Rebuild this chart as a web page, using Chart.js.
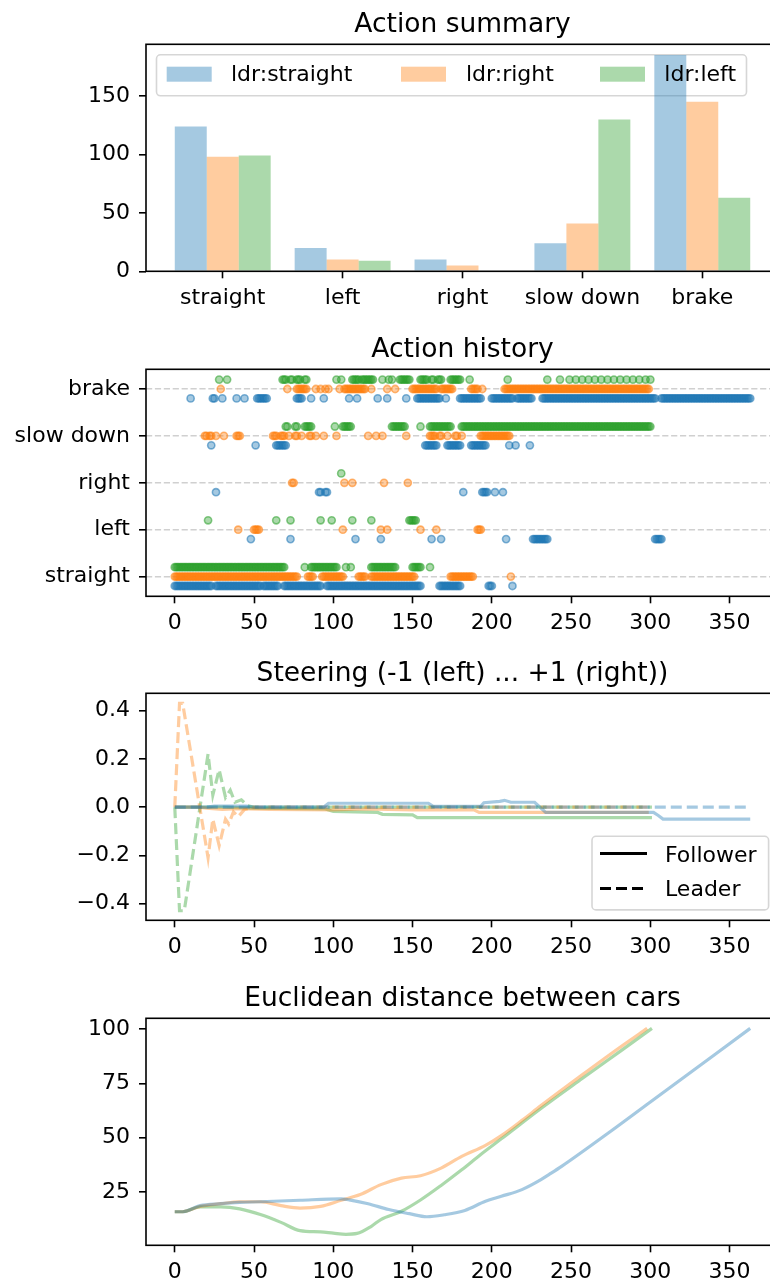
<!DOCTYPE html>
<html>
<head>
<meta charset="utf-8">
<script src="https://cdn.jsdelivr.net/npm/chart.js@4.4.0/dist/chart.umd.min.js"></script>
<style>
  html, body { margin: 0; padding: 0; background: #fff; overflow: hidden; width: 770px; height: 1282px; }
  canvas { position: absolute; left: 0; }
</style>
</head>
<body>
<canvas id="summary" width="800" height="325" style="top:0px"></canvas>
<canvas id="history" width="800" height="325" style="top:325px"></canvas>
<canvas id="steering" width="800" height="325" style="top:649px"></canvas>
<canvas id="distance" width="800" height="325" style="top:974px"></canvas>
<script>
// ---- data ----
const actions = ["straight", "left", "right", "slow down", "brake"];
const leaders = ["ldr:straight", "ldr:right", "ldr:left"];

// Action summary (counts per action)
const countStraight = [124, 20, 10, 24, 185];
const countRight = [98, 10, 5, 41, 145];
const countLeft = [99, 9, 0, 130, 63];

// Action history: runs of time steps [from, to] for each leader and action
const stStraight = [[0,23],[26,54],[56,65],[69,92],[96,155],[167,180],[198,200],[213,213]];
const stLeft = [[48,48],[73,73],[114,114],[130,130],[162,162],[168,168],[209,209],[226,235],[303,307]];
const stRight = [[26,26],[91,92],[95,96],[182,182],[194,197],[202,202],[207,207]];
const stSlow = [[23,23],[51,51],[64,70],[158,165],[172,180],[187,196],[211,211],[215,215],[224,224]];
const stBrake = [[10,10],[24,25],[30,30],[39,39],[44,44],[52,58],[77,80],[86,86],[94,94],[110,110],[115,115],
  [128,128],[134,134],[146,146],[153,167],[171,171],[180,193],[200,213],[216,225],[232,303],[307,363]];

const rtStraight = [[0,77],[84,87],[93,106],[116,120],[124,151],[174,188],[212,212]];
const rtLeft = [[40,40],[50,53],[106,106],[130,130],[134,134],[155,155],[165,165],[191,193]];
const rtRight = [[74,75],[107,107],[112,112],[132,132],[147,147]];
const rtSlow = [[19,20],[22,23],[26,26],[31,31],[39,41],[62,64],[67,69],[72,72],[76,77],[80,80],[85,86],[89,89],
  [94,94],[102,102],[122,122],[127,127],[131,131],[146,146],[161,164],[167,168],[172,172],[177,178],[181,181],[193,211]];
const rtBrake = [[29,29],[71,71],[77,83],[89,89],[92,92],[95,95],[97,97],[104,104],[107,120],[124,124],[134,134],
  [139,139],[150,165],[168,175],[187,191],[194,194],[208,299]];

const lfStraight = [[0,69],[82,82],[86,102],[108,108],[111,111],[124,139],[150,155],[161,161]];
const lfLeft = [[21,21],[64,64],[73,73],[92,92],[99,99],[112,112],[124,124],[148,152]];
const lfRight = [[105,105]];
const lfSlow = [[70,71],[76,77],[82,86],[101,101],[106,111],[137,145],[155,155],[161,174],[181,300]];
const lfBrake = [[28,28],[33,33],[68,70],[73,74],[77,79],[82,83],[102,102],[105,105],[112,116],[118,125],[131,131],
  [135,135],[137,137],[142,148],[155,159],[162,163],[166,168],[174,180],[186,186],[210,210],[235,235],[243,243],
  [249,249],[253,253],[257,257],[261,261],[265,265],[269,269],[273,273],[277,277],[281,281],[285,285],[289,289],
  [293,293],[297,297],[300,300]];

// Steering, [step, value]
const steerFollowStraight = [[0,0],[20,0],[25,0.004],[45,0.004],[50,0],[94,0],[97,0.016],[160,0.016],[163,0.003],
  [193,0.003],[195,0.018],[205,0.024],[208,0.028],[212,0.02],[227,0.02],[234,-0.022],[302,-0.022],[305,-0.035],
  [308,-0.05],[363,-0.05]];
const steerFollowRight = [[0,0],[15,0],[20,-0.004],[30,-0.01],[40,-0.006],[60,-0.01],[100,-0.012],[120,-0.008],
  [150,-0.012],[189,-0.012],[192,-0.022],[299,-0.022]];
const steerFollowLeft = [[0,0],[30,0],[50,-0.004],[95,-0.008],[100,-0.018],[128,-0.022],[131,-0.03],[150,-0.032],
  [153,-0.044],[301,-0.044]];
const steerLeadStraight = [[0,0],[363,0]];
const steerLeadRight = [[0,0],[3,0.43],[5,0.43],[21,-0.21],[24,-0.05],[28,-0.16],[32,-0.05],[34,-0.07],[37,-0.02],
  [40,-0.04],[44,-0.01],[50,0],[299,0]];
const steerLeadLeft = [[0,0],[3,-0.43],[6,-0.43],[21,0.22],[24,0.05],[28,0.155],[32,0.04],[35,0.07],[38,0.02],
  [42,0.03],[46,0.005],[50,0],[301,0]];

// Euclidean distance, [step, value]
const distStraight = [[0,15.9],[5,15.9],[16,18.7],[29,19.6],[41,20.2],[54,20.5],[79,21.2],[105,21.8],[110,21.4],
  [122,19.6],[135,16.9],[148,15.0],[159,13.6],[170,14.5],[183,16.5],[196,20.7],[206,23.0],[219,26.1],[231,30.7],
  [236,33.0],[244,36.8],[275,53],[300,66.5],[363,100.4]];
const distRight = [[0,15.9],[5,15.9],[16,18.4],[29,19.6],[41,20.5],[54,20.5],[67,18.7],[79,17.6],[92,18.4],
  [105,21.2],[117,23.8],[130,28.4],[143,31.4],[155,32.5],[168,36.0],[181,41.4],[196,46.5],[206,51.0],[219,58.0],
  [231,64.8],[257,79.0],[282,92.3],[298,100.4]];
const distLeft = [[0,15.9],[5,15.9],[16,18.1],[29,18.1],[41,17.2],[54,14.6],[67,11.0],[79,7.2],[92,6.6],[100,6.0],
  [108,5.5],[115,5.9],[124,9.2],[130,12.3],[143,16.1],[155,21.3],[168,28.0],[181,35.2],[193,42.3],[206,49.5],
  [231,63.5],[257,77.3],[282,90.4],[301,100.4]];

const timeTicks = [0, 50, 100, 150, 200, 250, 300, 350];
const countTicks = [0, 50, 100, 150];
const steerTicks = [-0.4, -0.2, 0, 0.2, 0.4];
const distTicks = [25, 50, 75, 100];

// ---- style ----
const FONT = 'DejaVu Sans';
const TICK_SIZE = 22;
Chart.defaults.font.family = FONT;
Chart.defaults.font.size = TICK_SIZE;
Chart.defaults.color = '#000';
Chart.defaults.animation = false;

const rgb = ['31,119,180', '255,127,14', '44,160,44'];
const fade = (i, a) => `rgba(${rgb[i]},${a})`;

const toXY = arr => arr.map(([x, y]) => ({x, y}));
const setTicks = values => scale => { scale.ticks = values.map(v => ({value: v})); };

function historyPoints(runsByAction, offset) {
  const pts = [];
  runsByAction.forEach((runs, action) => {
    runs.forEach(([a, b]) => {
      for (let t = a; t <= b; t++) pts.push({x: t, y: action + offset});
    });
  });
  return pts;
}

// axes frame and title centred over the axes, as matplotlib does
const frame = {
  id: 'frame',
  afterDraw(chart, args, opts) {
    const {ctx, chartArea: a} = chart;
    ctx.save();
    ctx.strokeStyle = '#000';
    ctx.lineWidth = 1.6;
    ctx.strokeRect(a.left, a.top, a.right - a.left, a.bottom - a.top);
    ctx.font = `26.5px "${FONT}"`;
    ctx.fillStyle = '#000';
    ctx.textAlign = 'center';
    ctx.textBaseline = 'alphabetic';
    ctx.fillText(opts.text, (a.left + a.right) / 2, a.top - 12.5);
    ctx.restore();
  }
};

function legendBox(ctx, x, y, w, h) {
  ctx.save();
  ctx.fillStyle = 'rgba(255,255,255,0.8)';
  ctx.strokeStyle = 'rgba(204,204,204,0.8)';
  ctx.lineWidth = 1.6;
  ctx.beginPath();
  ctx.roundRect(x, y, w, h, 4);
  ctx.fill();
  ctx.stroke();
  ctx.restore();
}

const summaryLegend = {
  id: 'summaryLegend',
  beforeDatasetsDraw(chart) {
    const a = chart.chartArea;
    legendBox(chart.ctx, a.left + 10.5, a.top + 10.5, 590, 41);
  },
  afterDatasetsDraw(chart) {
    const {ctx, chartArea: a} = chart;
    const swatchX = [20.7, 255, 454], textX = [85, 320, 518.3];
    ctx.save();
    ctx.font = `${TICK_SIZE}px "${FONT}"`;
    ctx.textBaseline = 'alphabetic';
    chart.data.datasets.forEach((ds, i) => {
      ctx.fillStyle = ds.backgroundColor;
      ctx.fillRect(a.left + swatchX[i], a.top + 22.4, 45, 15);
      ctx.fillStyle = '#000';
      ctx.fillText(ds.label, a.left + textX[i], a.top + 36.5);
    });
    ctx.restore();
  }
};

const steeringLegend = {
  id: 'steeringLegend',
  afterDraw(chart) {
    const {ctx, chartArea: a} = chart;
    legendBox(ctx, a.right - 187, a.bottom - 84, 176.6, 73.6);
    ctx.save();
    ctx.strokeStyle = '#000';
    ctx.lineWidth = 3;
    ctx.font = `${TICK_SIZE}px "${FONT}"`;
    ctx.fillStyle = '#000';
    [['Follower', [], 66.7, 58], ['Leader', [11, 5], 31.7, 24]].forEach(([label, dash, ly, ty]) => {
      ctx.setLineDash(dash);
      ctx.beginPath();
      ctx.moveTo(a.right - 179, a.bottom - ly);
      ctx.lineTo(a.right - 132, a.bottom - ly);
      ctx.stroke();
      ctx.fillText(label, a.right - 114, a.bottom - ty);
    });
    ctx.restore();
  }
};

const yAxis = (min, max, ticks, cb, gridLines) => ({
  type: 'linear', min: min, max: max,
  afterBuildTicks: setTicks(ticks),
  afterFit: s => { s.width = 146; },
  grid: {
    drawOnChartArea: !!gridLines, color: '#d0d0d0', lineWidth: 1.6,
    tickLength: 7, tickWidth: 1.6, tickColor: '#000', tickBorderDash: []
  },
  border: {display: false, dash: gridLines ? [6.2, 2.7] : []},
  ticks: {padding: 9, callback: cb, autoSkip: false}
});

const xAxis = (min, max, ticks, cb) => ({
  type: 'linear', min: min, max: max, offset: false,
  afterBuildTicks: setTicks(ticks),
  afterFit: s => { s.height = 53.7; },
  grid: {drawOnChartArea: false, offset: false, tickLength: 7, tickWidth: 1.6, tickColor: '#000'},
  border: {display: false},
  ticks: {padding: 7, maxRotation: 0, autoSkip: false, callback: cb}
});

const baseOpts = (title) => ({
  responsive: false,
  layout: {padding: {left: 0, right: 21, top: 44.3, bottom: 0}},
  plugins: {legend: {display: false}, tooltip: {enabled: false}, title: {display: false}, frame: {text: title}}
});

// ---- Action summary ----
const summaryCounts = [countStraight, countRight, countLeft];
new Chart(document.getElementById('summary'), {
  type: 'bar',
  data: {
    datasets: summaryCounts.map((counts, i) => ({
      label: leaders[i],
      data: actions.map((a, k) => ({x: k, y: counts[k]})),
      backgroundColor: fade(i, 0.4),
      borderWidth: 0,
      inflateAmount: 0,
      categoryPercentage: 0.8,
      barPercentage: 1.0
    }))
  },
  options: Object.assign(baseOpts('Action summary'), {
    scales: {
      x: xAxis(-0.64, 4.64, [0, 1, 2, 3, 4], v => actions[v]),
      y: yAxis(0, 194.25, countTicks, v => v, false)
    }
  }),
  plugins: [frame, summaryLegend]
});

// ---- Action history ----
const historyRuns = [
  [stStraight, stLeft, stRight, stSlow, stBrake],
  [rtStraight, rtLeft, rtRight, rtSlow, rtBrake],
  [lfStraight, lfLeft, lfRight, lfSlow, lfBrake]
];
const rowOffset = [-0.2, 0, 0.2];
new Chart(document.getElementById('history'), {
  type: 'scatter',
  data: {
    datasets: historyRuns.map((runs, i) => ({
      label: leaders[i],
      data: historyPoints(runs, rowOffset[i]),
      pointRadius: 3.6,
      pointBorderWidth: 1.6,
      backgroundColor: fade(i, 0.4),
      borderColor: fade(i, 0.55)
    }))
  },
  options: Object.assign(baseOpts('Action history'), {
    scales: {
      x: xAxis(-18.15, 381.15, timeTicks, v => v),
      y: yAxis(-0.42, 4.42, [0, 1, 2, 3, 4], v => actions[v], true)
    }
  }),
  plugins: [frame]
});

// ---- Steering ----
const follow = [steerFollowStraight, steerFollowRight, steerFollowLeft];
const lead = [steerLeadStraight, steerLeadRight, steerLeadLeft];
const steerSets = [];
follow.forEach((f, i) => {
  steerSets.push({label: leaders[i] + ' follower', data: toXY(f), borderColor: fade(i, 0.4),
    borderWidth: 3.2, pointRadius: 0, tension: 0, fill: false});
  steerSets.push({label: leaders[i] + ' leader', data: toXY(lead[i]), borderColor: fade(i, 0.4),
    borderWidth: 3.2, borderDash: [11, 5], pointRadius: 0, tension: 0, fill: false});
});
new Chart(document.getElementById('steering'), {
  type: 'line',
  data: {datasets: steerSets},
  options: Object.assign(baseOpts('Steering (-1 (left) ... +1 (right))'), {
    scales: {
      x: xAxis(-18.15, 381.15, timeTicks, v => v),
      y: yAxis(-0.4696, 0.472, steerTicks, v => v.toFixed(1).replace('-', '\u2212'), false)
    }
  }),
  plugins: [frame, steeringLegend]
});

// ---- Distance ----
const dist = [distStraight, distRight, distLeft];
new Chart(document.getElementById('distance'), {
  type: 'line',
  data: {
    datasets: dist.map((d, i) => ({
      label: leaders[i], data: toXY(d), borderColor: fade(i, 0.4),
      borderWidth: 3.2, pointRadius: 0, cubicInterpolationMode: 'monotone', fill: false
    }))
  },
  options: Object.assign(baseOpts('Euclidean distance between cars'), {
    scales: {
      x: xAxis(-18.15, 381.15, timeTicks, v => v),
      y: yAxis(0.43, 105.06, distTicks, v => v, false)
    }
  }),
  plugins: [frame]
});
</script>
</body>
</html>
